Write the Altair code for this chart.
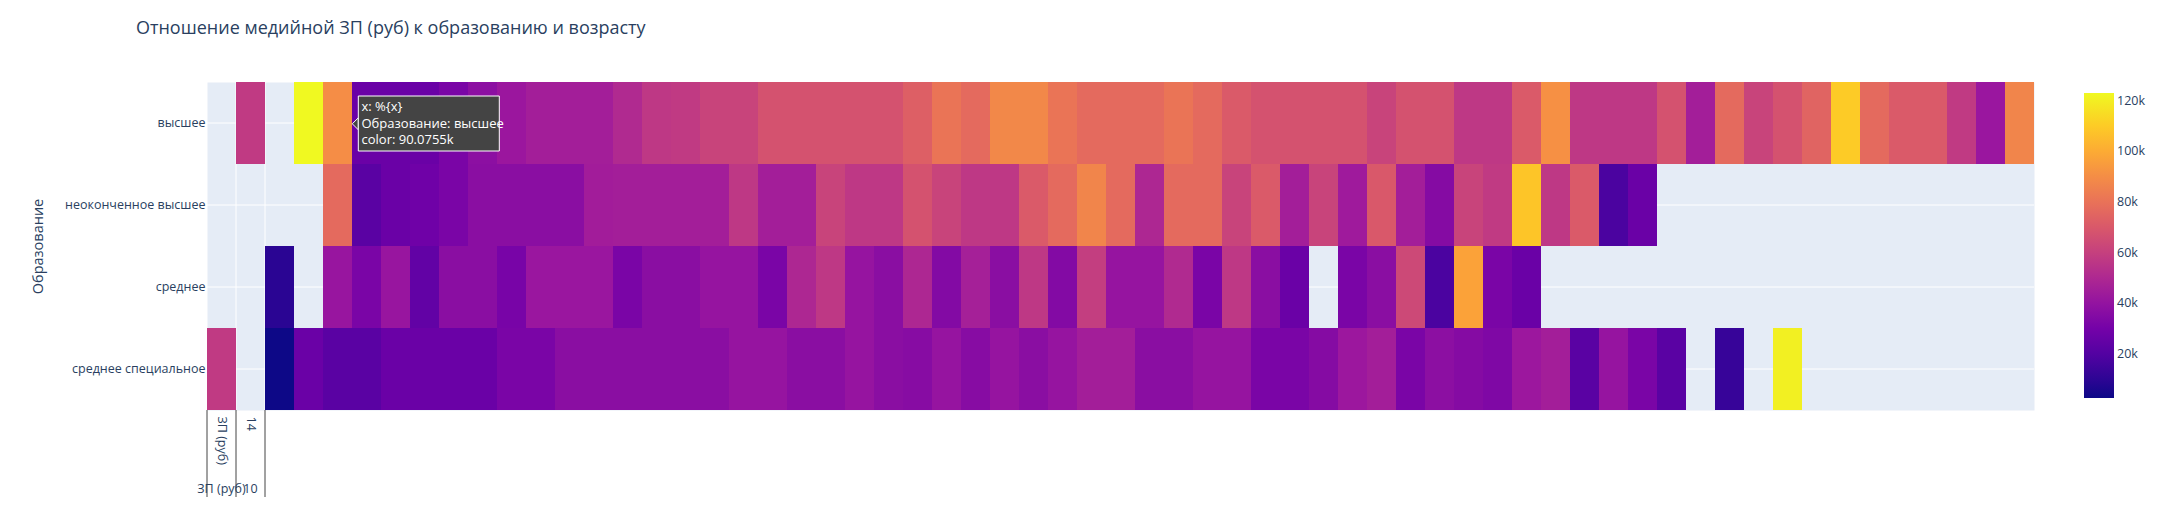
import json
import altair as alt
import pandas as pd

title_text = "Отношение медийной ЗП (руб) к образованию и возрасту"
y_title = "Образование"

# x categories (first is the odd "ЗП (руб)" column, then ages)
x_labels = ["ЗП (руб)"] + [str(a) for a in range(14, 76)]
edu = ["высшее", "неоконченное высшее", "среднее", "среднее специальное"]

# median salary, thousand rub (None = no data)
row_vysshee = [None, 57.5, None, 123.0, 90.0755, 26.9, 26.9, 26.9, 31.9, 37.6,
               42.4, 45.6, 45.6, 45.6, 50.8, 56.5, 57.5, 61.5, 61.5, 67.5,
               67.5, 67.5, 67.5, 67.5, 72.7, 81.0, 77.0, 88.0, 88.0, 81.0,
               77.0, 77.0, 77.0, 81.0, 77.0, 70.7, 67.5, 67.5, 67.5, 67.5,
               61.5, 67.5, 67.5, 56.5, 56.5, 70.7, 91.0, 56.5, 56.5, 56.5,
               67.5, 45.6, 77.0, 61.5, 67.5, 74.6, 110.0, 77.0, 70.7, 70.7,
               57.5, 42.0, 87.0]
row_neok = [None, None, None, None, 77.0, 22.1, 26.9, 28.5, 31.9, 37.0,
            37.0, 37.0, 37.0, 45.0, 45.6, 45.6, 45.6, 45.6, 56.5, 45.6,
            45.6, 61.5, 56.5, 56.5, 67.5, 61.5, 56.5, 56.5, 70.7, 77.0,
            87.0, 77.0, 49.6, 77.0, 77.0, 61.5, 70.7, 45.6, 61.5, 43.9,
            70.0, 45.6, 35.4, 61.5, 57.5, 108.0, 56.5, 70.7, 17.5, 26.9,
            None, None, None, None, None, None, None, None, None, None,
            None, None, None]
row_sred = [None, None, 9.4, None, 41.4, 31.9, 41.4, 24.5, 37.0, 37.0,
            31.3, 42.0, 42.0, 42.0, 31.9, 37.0, 37.0, 40.7, 40.7, 31.9,
            49.6, 56.5, 40.7, 37.0, 49.6, 34.7, 46.3, 37.0, 56.5, 34.7,
            59.0, 40.7, 40.7, 50.8, 31.9, 56.5, 37.0, 26.9, None, 31.9,
            37.0, 63.5, 17.5, 97.2, 31.9, 26.9, None, None, None, None,
            None, None, None, None, None, None, None, None, None, None,
            None, None, None]
row_spec = [57.5, None, 2.6, 26.9, 22.1, 22.1, 26.9, 26.9, 26.9, 26.9,
            31.9, 31.9, 37.0, 37.0, 37.0, 37.0, 37.0, 37.0, 40.7, 40.7,
            37.0, 37.0, 40.7, 37.0, 36.0, 40.7, 36.0, 40.7, 37.0, 40.7,
            45.6, 45.6, 37.0, 37.0, 40.7, 40.7, 31.9, 31.9, 35.4, 42.7,
            45.6, 31.9, 37.6, 35.4, 33.5, 42.7, 45.6, 22.1, 40.7, 31.9,
            22.1, None, 12.5, None, 120.5, None, None, None, None, None,
            None, None, None]

# second-level (outer) x labels and which inner labels are shown
outer_labels = ["ЗП (руб)", "10"]
shown_inner = ["ЗП (руб)", "14"]
divider_cats = ["ЗП (руб)", "14", "15"]
tooltip_lines = ["x: %{x}", "Образование: высшее", "color: 90.0755k"]
legend_ticks = [20000, 40000, 60000, 80000, 100000, 120000]
plasma = ["#0d0887", "#46039f", "#7201a8", "#9c179e", "#bd3786",
          "#d8576b", "#ed7953", "#fb9f3a", "#fdca26", "#f0f921"]

TXT = "#2a3f5f"
FONT = "Open Sans"
W, H = 1827, 328

rows = []
for e, vals in zip(edu, [row_vysshee, row_neok, row_sred, row_spec]):
    for x, v in zip(x_labels, vals):
        if v is not None:
            rows.append({"x": x, "edu": e, "zp": v * 1000})
df = pd.DataFrame(rows)

vmin, vmax = df["zp"].min(), df["zp"].max()
cdomain = [vmin + (vmax - vmin) * i / (len(plasma) - 1) for i in range(len(plasma))]
cscale = alt.Scale(domain=cdomain, range=plasma, interpolate="rgb")

xscale = alt.Scale(domain=x_labels, paddingInner=0, paddingOuter=0)
yscale = alt.Scale(domain=edu, paddingInner=0, paddingOuter=0)

label_expr = "indexof(%s, datum.value) >= 0 ? datum.value : ''" % json.dumps(shown_inner, ensure_ascii=False)

xaxis = alt.Axis(
    title=None, labelAngle=90, labelAlign="left", labelBaseline="middle",
    labelExpr=label_expr, ticks=False, domain=False, grid=False,
    labelPadding=6, labelFontSize=12.5, labelColor=TXT, labelFont=FONT,
    labelOverlap=False)
yaxis = alt.Axis(
    title=y_title, titleFontSize=14.5, titleFont=FONT, titleColor=TXT,
    titleFontWeight="normal", titlePadding=19, labelFontSize=12.5,
    labelColor=TXT, labelFont=FONT, ticks=False, domain=False, grid=False,
    labelPadding=2)

# white grid lines under the heatmap
hgrid = alt.Chart(pd.DataFrame({"edu": edu})).mark_rule(color="white", strokeWidth=1).encode(
    y=alt.Y("edu:N", scale=yscale, axis=yaxis, bandPosition=0.5),
    x=alt.value(0), x2=alt.value(W))
vgrid = alt.Chart(pd.DataFrame({"x": divider_cats[1:]})).mark_rule(color="white", strokeWidth=1).encode(
    x=alt.X("x:N", scale=xscale, axis=xaxis, bandPosition=0),
    y=alt.value(0), y2=alt.value(H))

heat = alt.Chart(df).mark_rect().encode(
    x=alt.X("x:N", scale=xscale, axis=xaxis),
    y=alt.Y("edu:N", scale=yscale, axis=yaxis),
    color=alt.Color("zp:Q", scale=cscale, legend=alt.Legend(
        type="gradient", title=None, orient="none", legendX=1877, legendY=11,
        gradientLength=305, gradientThickness=30, values=legend_ticks,
        format="~s", labelFontSize=12.5, labelColor=TXT, labelFont=FONT,
        gradientStrokeWidth=0, labelOffset=3, padding=0, direction="vertical")),
)

dividers = alt.Chart(pd.DataFrame({"x": divider_cats})).mark_rule(color="#444444", strokeWidth=1).encode(
    x=alt.X("x:N", scale=xscale, axis=xaxis, bandPosition=0),
    y=alt.value(H), y2=alt.value(H + 87))

outer = alt.Chart(pd.DataFrame({"x": x_labels[:2], "t": outer_labels})).mark_text(
    fontSize=12.5, font=FONT, color=TXT, baseline="middle", align="center").encode(
    x=alt.X("x:N", scale=xscale, axis=xaxis),
    y=alt.value(H + 79), text="t:N")

# hover label seen in the reference
one = pd.DataFrame({"a": [0]})
pointer = alt.Chart(one).mark_point(
    shape="M0.5,-1L-0.5,0L0.5,1Z", filled=True, fill="#444444", stroke="white",
    strokeWidth=1, size=144, opacity=1).encode(x=alt.value(148.3), y=alt.value(41.8))
box = alt.Chart(one).mark_rect(fill="#444444", stroke="white", strokeWidth=1).encode(
    x=alt.value(151.3), x2=alt.value(292.3), y=alt.value(14), y2=alt.value(69))
tips = []
for i, line in enumerate(tooltip_lines):
    tips.append(alt.Chart(pd.DataFrame({"t": [line]})).mark_text(
        align="left", baseline="middle", color="white", fontSize=13, font=FONT).encode(
        x=alt.value(154.5), y=alt.value(25 + 16.5 * i), text="t:N"))

chart = alt.layer(hgrid, vgrid, heat, dividers, outer, pointer, box, *tips).properties(
    width=W, height=H,
    title=alt.TitleParams(text=title_text, anchor="start", frame="group", dx=-71,
                          offset=44, fontSize=18, fontWeight="normal", font=FONT, color=TXT),
    padding={"left": 199, "top": 74, "right": 113, "bottom": 88},
    autosize=alt.AutoSizeParams(type="none"),
).configure_view(fill="#E5ECF6", stroke="transparent")

chart.save("out.html", embed_options={"renderer": "svg", "actions": False})
